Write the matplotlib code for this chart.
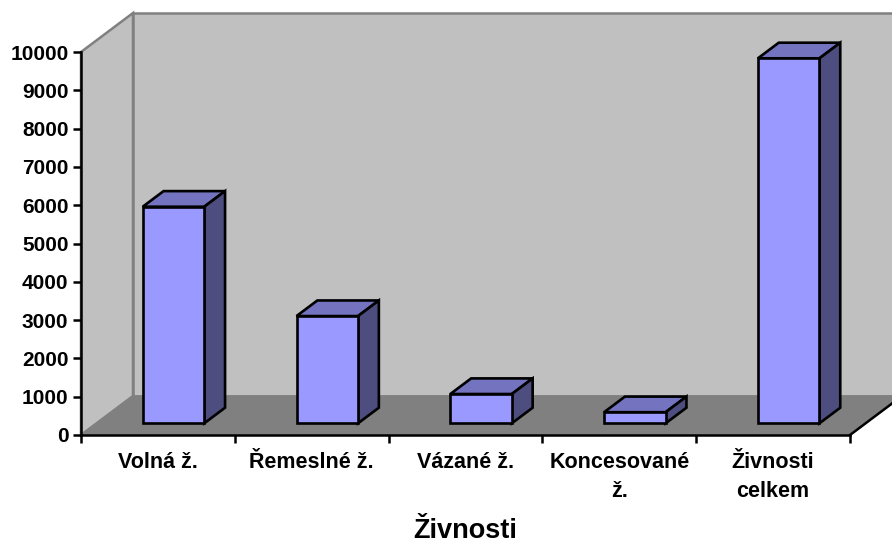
import matplotlib
matplotlib.use('Agg')
import matplotlib.pyplot as plt

plt.rcParams['font.family'] = ['Liberation Sans', 'DejaVu Sans']
plt.rcParams['font.weight'] = 'bold'

categories = ['Volná ž.', 'Řemeslné ž.', 'Vázané ž.', 'Koncesované\nž.', 'Živnosti\ncelkem']
values = [5655, 2800, 765, 290, 9530]
y_ticks = list(range(0, 10001, 1000))
x_title = 'Živnosti'

W, H = 892, 543
fig = plt.figure(figsize=(W / 100, H / 100), dpi=100)
# front plane of the 3d box, in pixels
left, right, top, bottom = 81, 850, 52, 435
ax = fig.add_axes([left / W, 1 - bottom / H, (right - left) / W, (bottom - top) / H])
ax.set_xlim(0, len(categories))
ax.set_ylim(0, 10000)

# how far one unit of depth shifts things, in data units
depth_x = 52 / ((right - left) / len(categories))
depth_y = 39 / ((bottom - top) / 10000)


def proj(x, v, d):
    return x + d * depth_x, v + d * depth_y


def face(points, d_color, edge, lw, z):
    xs = [proj(*p)[0] for p in points]
    ys = [proj(*p)[1] for p in points]
    ax.fill(xs, ys, facecolor=d_color, edgecolor=edge, linewidth=lw, zorder=z,
            clip_on=False, joinstyle='miter')


n = len(categories)
wall_right = n + 0.3
face([(0, 0, 0), (0, 0, 1), (0, 10000, 1), (0, 10000, 0)], '#c0c0c0', '#808080', 1.8, 1)
face([(0, 0, 1), (wall_right, 0, 1), (wall_right, 10000, 1), (0, 10000, 1)], '#c0c0c0', '#808080', 1.8, 1)
face([(0, 0, 0), (n, 0, 0), (n, 0, 1), (0, 0, 1)], '#808080', '#808080', 1.0, 2)
# darker edge of the floor on the right
ax.plot(*zip(proj(n, 0, 0), proj(n, 0, 1)), color='black', lw=1.8, zorder=2, clip_on=False)

bar_w = 0.4
d0, d1 = 0.3, 0.7
for i, val in enumerate(values):
    x0 = i + 0.5 - bar_w / 2
    x1 = i + 0.5 + bar_w / 2
    face([(x0, 0, d0), (x1, 0, d0), (x1, val, d0), (x0, val, d0)], '#9999ff', 'black', 1.9, 4)
    face([(x0, val, d0), (x1, val, d0), (x1, val, d1), (x0, val, d1)], '#7373bf', 'black', 1.9, 3)
    face([(x1, 0, d0), (x1, 0, d1), (x1, val, d1), (x1, val, d0)], '#4d4d80', 'black', 1.9, 3)

ax.patch.set_visible(False)
for s in ['top', 'right']:
    ax.spines[s].set_visible(False)
for s in ['left', 'bottom']:
    ax.spines[s].set_linewidth(1.8)
    ax.spines[s].set_zorder(5)

ax.set_yticks(y_ticks)
ax.set_xticks(range(n + 1))
ax.set_xticklabels([])
ax.set_xticks([i + 0.5 for i in range(n)], categories, minor=True)
ax.tick_params(axis='x', which='major', length=6, width=1.8)
ax.tick_params(axis='x', which='minor', length=0, pad=12, labelsize=15.5)
ax.tick_params(axis='y', length=6, width=1.8, pad=3, labelsize=15)
for lab in ax.get_xminorticklabels():
    lab.set_linespacing(1.5)

fig.text(465.5 / W, 1 - 531 / H, x_title, ha='center', va='center', fontsize=19.5)

fig.savefig('out.png', dpi=100)
